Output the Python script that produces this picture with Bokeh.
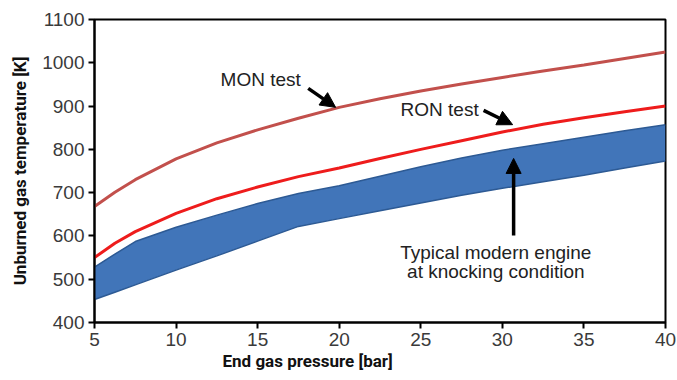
from bokeh.plotting import figure
from bokeh.models import Range1d, FixedTicker, Arrow, NormalHead, Title
from bokeh.core.properties import value
from bokeh.embed import file_html
from bokeh.resources import INLINE

# End gas pressure [bar]
pressure = [5, 6.25, 7.5, 10, 12.5, 15, 17.5, 20, 22.5, 25, 27.5, 30, 32.5, 35, 37.5, 40]
# Unburned gas temperature [K] along the MON and RON test conditions
mon_temp = [668, 701, 730, 778, 815, 845, 872, 897, 917, 935, 951, 966, 981, 995, 1010, 1025]
ron_temp = [550, 583, 610, 652, 686, 713, 737, 757, 779, 800, 820, 840, 858, 873, 887, 900]
# Band for a typical modern engine at knocking condition
engine_upper = [528, 558, 587, 620, 648, 675, 698, 716, 738, 760, 780, 798, 813, 828, 843, 857]
engine_lower = [453, 470, 487, 521, 554, 588, 622, 640, 658, 676, 694, 710, 725, 740, 757, 773]

x_ticks = [5, 10, 15, 20, 25, 30, 35, 40]
y_ticks = [400, 500, 600, 700, 800, 900, 1000, 1100]

FONT = "Liberation Sans"
LABEL_FONT = "Roboto"

p = figure(width=677, height=380, output_backend="svg", toolbar_location=None,
           x_range=Range1d(5, 40), y_range=Range1d(400, 1100),
           min_border_left=94, min_border_right=12, min_border_top=19,
           min_border_bottom=58)

p.grid.visible = False
p.outline_line_color = "black"
p.outline_line_width = 2
p.background_fill_color = "white"
p.border_fill_color = "white"

for ax in (p.xaxis[0], p.yaxis[0]):
    ax.axis_line_color = "black"
    ax.axis_line_width = 2
    ax.major_tick_line_color = "black"
    ax.major_tick_line_width = 2
    ax.major_tick_out = 6
    ax.major_tick_in = 0
    ax.minor_tick_line_color = None
    ax.major_label_text_font = FONT
    ax.major_label_text_font_size = "19px"
    ax.major_label_text_color = "#3a3a3a"

p.xaxis.ticker = FixedTicker(ticks=x_ticks)
p.yaxis.ticker = FixedTicker(ticks=y_ticks)
p.xaxis.major_label_standoff = 4
p.yaxis.major_label_standoff = 4

p.yaxis.axis_label = "Unburned gas temperature [K]"
p.yaxis.axis_label_text_font = LABEL_FONT
p.yaxis.axis_label_text_font_style = "bold"
p.yaxis.axis_label_text_font_size = "17px"
p.yaxis.axis_label_text_color = "#111111"
p.yaxis.axis_label_standoff = 9

# x-axis title, set left of the frame centre
p.add_layout(Title(text="End gas pressure [bar]", align="left", offset=128,
                   text_font=LABEL_FONT, text_font_style="bold",
                   text_font_size="17px", text_color="#111111",
                   standoff=0), "below")

# engine band
p.varea(x=pressure, y1=engine_lower, y2=engine_upper, fill_color="#4175b9")
p.line(pressure, engine_upper, line_color="#2d5a94", line_width=1.5)
p.line(pressure, engine_lower, line_color="#2d5a94", line_width=1.5)

# test curves
p.line(pressure, mon_temp, line_color="#c2504c", line_width=3)
p.line(pressure, ron_temp, line_color="#ee1c1c", line_width=3)

# annotations
label_style = dict(text_font=value(FONT), text_font_size="19px",
                   text_color="#222222", text_baseline="middle")
p.text(x=[12.73], y=[961], text=["MON test"], text_align="left", **label_style)
p.text(x=[23.76], y=[892], text=["RON test"], text_align="left", **label_style)
p.text(x=[29.6, 29.6], y=[562, 518],
       text=["Typical modern engine", "at knocking condition"],
       text_align="center", **label_style)

def add_arrow(x0, y0, x1, y1):
    p.add_layout(Arrow(end=NormalHead(size=15, fill_color="black", line_color="black"),
                       x_start=x0, y_start=y0, x_end=x1, y_end=y1,
                       line_color="black", line_width=3.5))

add_arrow(18.1, 941, 19.78, 897)
add_arrow(28.85, 890, 30.63, 857)
add_arrow(30.69, 601, 30.69, 779)

open("out.html", "w").write(file_html(p, INLINE))
